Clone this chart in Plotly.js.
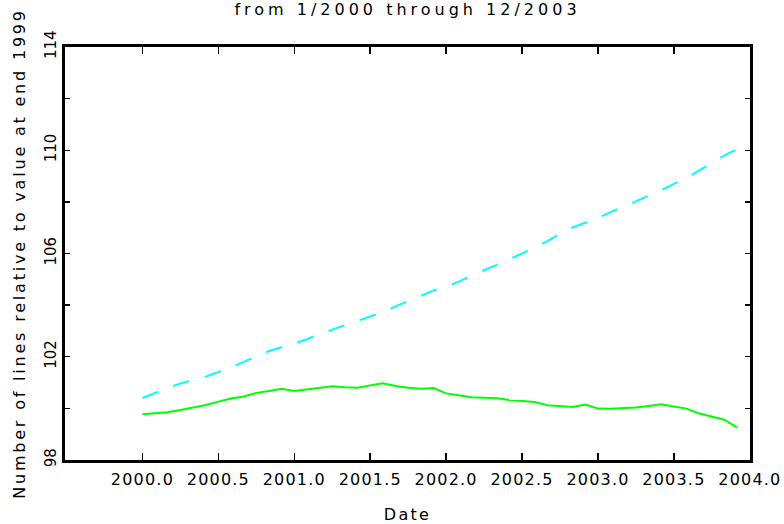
<!DOCTYPE html>
<html>
<head>
<meta charset="utf-8">
<script src="https://cdn.plot.ly/plotly-3.0.1.min.js"></script>
<style>
html,body{margin:0;padding:0;background:#fff;}
#chart{width:784px;height:524px;}
#chart .gtitle{letter-spacing:4px;}
#chart .xtitle{letter-spacing:2.3px;}
#chart .ytitle{letter-spacing:2.8px;}
#chart .xtick text{letter-spacing:1.2px;}
</style>
</head>
<body>
<div id="chart"></div>
<script>
// Monthly dates, Jan 2000 .. Dec 2003 (decimal years, start of month)
const dates = [
  2000.000, 2000.083, 2000.167, 2000.250, 2000.333, 2000.417, 2000.500, 2000.583, 2000.667, 2000.750, 2000.833, 2000.917,
  2001.000, 2001.083, 2001.167, 2001.250, 2001.333, 2001.417, 2001.500, 2001.583, 2001.667, 2001.750, 2001.833, 2001.917,
  2002.000, 2002.083, 2002.167, 2002.250, 2002.333, 2002.417, 2002.500, 2002.583, 2002.667, 2002.750, 2002.833, 2002.917,
  2003.000, 2003.083, 2003.167, 2003.250, 2003.333, 2003.417, 2003.500, 2003.583, 2003.667, 2003.750, 2003.833, 2003.917
];
// Cyan dashed series
const cyanSeries = [
  100.40, 100.61, 100.80, 100.96, 101.10, 101.23, 101.41, 101.60, 101.80, 102.02, 102.22, 102.37,
  102.52, 102.68, 102.88, 103.05, 103.22, 103.37, 103.55, 103.73, 103.95, 104.15, 104.37, 104.57,
  104.71, 104.91, 105.15, 105.37, 105.56, 105.78, 105.99, 106.23, 106.48, 106.77, 107.01, 107.19,
  107.38, 107.60, 107.81, 108.03, 108.21, 108.45, 108.70, 108.92, 109.22, 109.52, 109.80, 110.05
];
// Green solid series
const greenSeries = [
  99.77, 99.80, 99.85, 99.94, 100.03, 100.13, 100.26, 100.38, 100.46, 100.60, 100.67, 100.76,
  100.67, 100.74, 100.81, 100.86, 100.82, 100.80, 100.89, 100.97, 100.87, 100.80, 100.76, 100.79,
  100.58, 100.50, 100.43, 100.41, 100.39, 100.32, 100.29, 100.25, 100.12, 100.08, 100.05, 100.15,
  99.99, 99.98, 100.00, 100.03, 100.09, 100.16, 100.07, 99.99, 99.80, 99.69, 99.56, 99.25
];
const xTickVals = [2000.0, 2000.5, 2001.0, 2001.5, 2002.0, 2002.5, 2003.0, 2003.5, 2004.0];
const xTickText = ["2000.0", "2000.5", "2001.0", "2001.5", "2002.0", "2002.5", "2003.0", "2003.5", "2004.0"];
const yTickVals = [98, 100, 102, 104, 106, 108, 110, 112, 114];
const yTickText = ["98", "", "102", "", "106", "", "110", "", "114"];

const FONT = "DejaVu Sans, Verdana, sans-serif";

const traces = [
  {x: dates, y: cyanSeries, type: "scatter", mode: "lines",
   line: {color: "#00FFFF", width: 2, dash: "17px,16px"}, hoverinfo: "skip"},
  {x: dates, y: greenSeries, type: "scatter", mode: "lines",
   line: {color: "#00FF00", width: 2}, hoverinfo: "skip"}
];

const layout = {
  width: 784, height: 524,
  margin: {l: 65, r: 34, t: 47, b: 64, pad: 0},
  paper_bgcolor: "#ffffff", plot_bgcolor: "#ffffff",
  showlegend: false,
  font: {family: FONT, size: 15, color: "#000"},
  title: {text: "from 1/2000 through 12/2003", x: 0.5, xref: "paper", xanchor: "center",
          y: 1 - 9/524, yref: "container", yanchor: "middle",
          font: {family: FONT, size: 16, color: "#000"}},
  xaxis: {
    range: [1999.49, 2004.001], tickmode: "array", tickvals: xTickVals, ticktext: xTickText,
    ticks: "inside", ticklen: 7, tickwidth: 1.5, tickcolor: "#000",
    showline: true, linewidth: 3, linecolor: "#000", mirror: "allticks",
    showgrid: false, zeroline: false, ticklabelstandoff: 3,
    tickfont: {family: FONT, size: 16, color: "#000"},
    title: {text: "Date", font: {family: FONT, size: 16, color: "#000"}, standoff: 21}
  },
  yaxis: {
    range: [97.999, 114.001], tickmode: "array", tickvals: yTickVals, ticktext: yTickText,
    ticks: "inside", ticklen: 5, tickwidth: 1.5, tickcolor: "#000",
    showline: true, linewidth: 3, linecolor: "#000", mirror: "allticks",
    showgrid: false, zeroline: false, tickangle: -90,
    tickfont: {family: FONT, size: 15, color: "#000"},
    title: {text: "Number of lines relative to value at end 1999", font: {family: FONT, size: 16, color: "#000"}, standoff: 13}
  }
};

Plotly.newPlot("chart", traces, layout, {staticPlot: true, displayModeBar: false});
</script>
</body>
</html>
